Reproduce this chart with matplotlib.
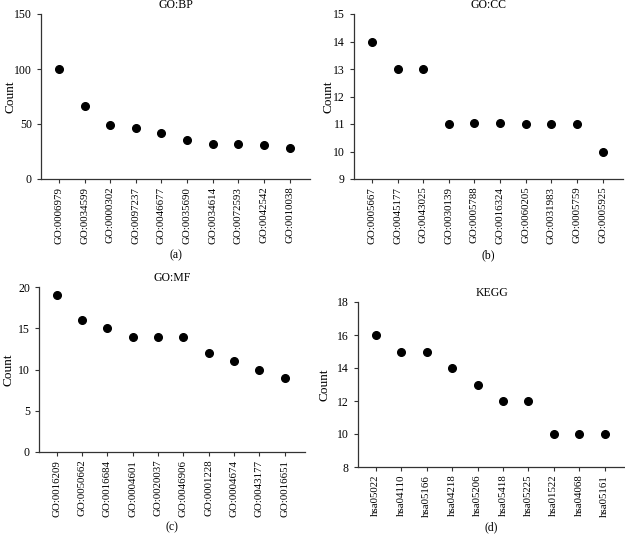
import matplotlib
matplotlib.use("Agg")
import matplotlib.pyplot as plt

plt.rcParams['font.family'] = ['Liberation Serif', 'DejaVu Serif']
plt.rcParams['font.size'] = 8.5

bp_terms = ["GO:0006979", "GO:0034599", "GO:0000302", "GO:0097237", "GO:0046677",
            "GO:0035690", "GO:0034614", "GO:0072593", "GO:0042542", "GO:0010038"]
bp_counts = [100, 66, 49.5, 46, 42, 35.5, 31.5, 32, 31, 28.5]

cc_terms = ["GO:0005667", "GO:0045177", "GO:0043025", "GO:0030139", "GO:0005788",
            "GO:0016324", "GO:0060205", "GO:0031983", "GO:0005759", "GO:0005925"]
cc_counts = [14, 13, 13, 11, 11.05, 11.05, 11, 11, 11, 10]

mf_terms = ["GO:0016209", "GO:0050662", "GO:0016684", "GO:0004601", "GO:0020037",
            "GO:0046906", "GO:0001228", "GO:0004674", "GO:0043177", "GO:0016651"]
mf_counts = [19, 16, 15, 14, 14, 14, 12, 11, 10, 9]

kegg_terms = ["hsa05022", "hsa04110", "hsa05166", "hsa04218", "hsa05206",
              "hsa05418", "hsa05225", "hsa01522", "hsa04068", "hsa05161"]
kegg_counts = [16, 15, 15, 14, 13, 12, 12, 10, 10, 10]

W, H = 625, 536
fig = plt.figure(figsize=(W/100, H/100), dpi=100)

def box(l, r, t, b):
    return [l/W, 1-b/H, (r-l)/W, (b-t)/H]

panels = [
    (box(41, 310, 14, 179), bp_terms, bp_counts, "GO:BP", (0, 150), [0, 50, 100, 150], "(a)", 255, 10),
    (box(354, 623, 14, 179), cc_terms, cc_counts, "GO:CC", (9, 15), list(range(9, 16)), "(b)", 255, 328),
    (box(39, 305, 287, 452), mf_terms, mf_counts, "GO:MF", (0, 20), [0, 5, 10, 15, 20], "(c)", 527, 9),
    (box(358, 625, 302, 467), kegg_terms, kegg_counts, "KEGG", (8, 18), [8, 10, 12, 14, 16, 18], "(d)", 527, 325),
]

for rect, terms, counts, title, ylim, yticks, cap, capy, labx in panels:
    ax = fig.add_axes(rect)
    x = list(range(len(terms)))
    ax.plot(x, counts, 'o', color='black', ms=5.5, clip_on=False)
    ax.set_xlim(-0.7, len(terms) - 0.2)
    ax.set_ylim(*ylim)
    ax.set_yticks(yticks)
    ax.set_xticks(x)
    ax.set_xticklabels(terms, rotation=90)
    ax.set_title(title, fontsize=8.5, pad=4)
    for s in ['top', 'right']:
        ax.spines[s].set_visible(False)
    for s in ['left', 'bottom']:
        ax.spines[s].set_color('#333333')
        ax.spines[s].set_linewidth(0.9)
    ax.tick_params(direction='out', length=3, width=0.8, color='#333333')
    ax.tick_params(axis='y', labelsize=8.5)
    ax.tick_params(axis='x', labelsize=7.8, pad=2.5)
    pos = ax.get_position()
    fig.text(labx/W, pos.y0 + pos.height/2, "Count", rotation=90, ha='center', va='center', fontsize=9.5)
    fig.text(pos.x0 + pos.width/2, 1 - capy/H, cap, ha='center', va='center', fontsize=8.5)

fig.savefig("out.png", dpi=100)
